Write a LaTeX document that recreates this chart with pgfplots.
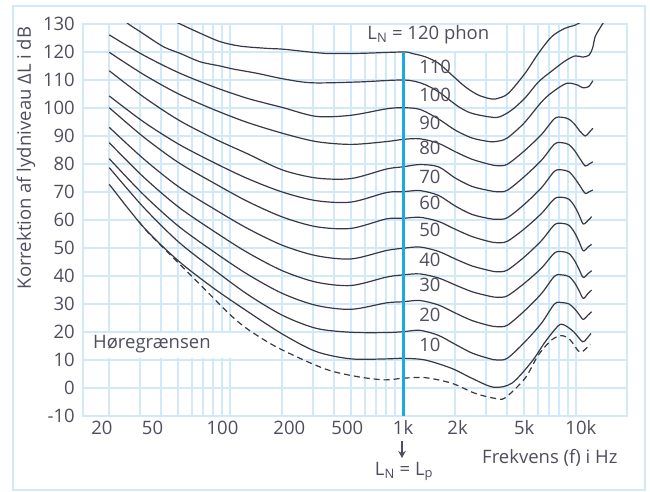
\documentclass[border=0pt]{standalone}
\usepackage{pgfplots}
\pgfplotsset{compat=1.18}
\usepackage{fontspec}
\setmainfont{Open Sans}
\usetikzlibrary{arrows.meta}

\definecolor{gridblue}{RGB}{208,234,250}
\definecolor{markblue}{RGB}{25,170,230}
\definecolor{txt}{RGB}{78,78,95}
\definecolor{curve}{RGB}{55,55,72}
\newcommand{\lbl}{\fontsize{18.5}{20}\selectfont}
\tikzset{cv/.style={curve, line width=1.2pt, smooth, mark=none}}

\begin{document}
\begin{tikzpicture}[x=1pt,y=1pt]
\path[use as bounding box] (0,0) rectangle (650,491);
\draw[gridblue, line width=2pt] (13,1.5) rectangle (645,485);

\begin{axis}[
  at={(83pt,75pt)}, anchor=south west,
  scale only axis, width=544pt, height=392pt,
  xmode=log, xmin=14.1, xmax=19700,
  ymin=-10, ymax=130,
  axis line style={gridblue, line width=1.8pt},
  xtick={18.13,35.6,90.3,219.9,475.9,1000,2065,5018,10660},
  xticklabels={20,50,100,200,500,1k,2k,5k,10k},
  minor xtick={20,30,40,50,60,70,80,90,100,200,300,400,500,600,700,800,900,
               2000,3000,4000,5000,6000,7000,8000,9000,10000},
  xmajorgrids=false, xminorgrids=true,
  ytick={-10,0,10,20,30,40,50,60,70,80,90,100,110,120,130},
  yticklabels={-10,0,10,20,30,40,50,60,70,80,90,100,110,120,130},
  ymajorgrids=true,
  major grid style={gridblue, line width=1.8pt},
  minor grid style={gridblue, line width=1.8pt},
  tick style={draw=none},
  major tick length=0pt, minor tick length=0pt,
  xticklabel style={font=\lbl, text=txt, anchor=base, yshift=-18.3pt, inner sep=0pt},
  yticklabel style={font=\lbl, text=txt, anchor=east, xshift=-8pt, inner sep=0pt},
]

% white boxes behind two labels
\fill[white] (axis cs:14.3,10.7) rectangle (axis cs:104,19.6);
\fill[white] (axis cs:579,120.4) rectangle (axis cs:3600,129.6);

% equal loudness contours, 120 down to 10 phon
\addplot[cv] coordinates {
(45,131.7)(51.4,130)(67.1,126.7)(87.5,123.7)(114.3,122.1)(163,121.3)(203,121.0)
(297,119.9)(354,119.5)(551,119.5)(1000,120)(1123,119.5)(1341,118.3)(1600,116.0)
(1912,111.8)(2283,107.6)(2725,104.6)(3256,103.2)(3555,103.5)(4062,105.25)
(5072,112.4)(6055,119.5)(7236,125.5)(8638,128.5)(9867,129.6)(11270,131.5)};

\addplot[cv] coordinates {
(24.5,131.4)(25.8,130)(30.2,127.25)(41.1,121.9)(51.4,119.5)(67.1,116.5)(87.5,115.0)
(104.5,113.9)(142.7,112.4)(203,110.4)(297,109.0)(551,109.3)(1000,110.0)(1283,108.8)
(1600,105.8)(2088,100.5)(2496,98.1)(3256,96.7)(3636,96.9)(4249,99.3)(5072,103.6)
(6055,109.3)(7236,113.2)(8638,116.8)(9867,118.6)(10980,118.2)(11890,118.9)
(12460,121.4)(12880,125.4)(13760,128.6)(14710,131.4)};

\addplot[cv] coordinates {
(20,126.1)(31.5,118.9)(50,112.7)(80,107.6)(125,103.5)(200,100.2)(315,97.0)
(500,97.4)(800,99.7)(1000,100.1)(1250,99.5)(1600,96.1)(2000,92.1)(2500,89.3)
(3150,88.0)(3500,88.1)(4000,89.3)(5000,94.6)(6300,102.1)(7236,105.5)(8800,108.8)
(10200,108.2)(10900,107.25)(11800,107.6)(12500,109.75)};

\addplot[cv] coordinates {
(20,119.9)(31.5,112.0)(50,105.1)(80,99.5)(125,94.9)(200,91.0)(315,88.0)(500,87.0)
(800,88.0)(1000,88.8)(1250,89.0)(1600,87.4)(2000,84.4)(2500,81.7)(3150,79.9)
(3500,79.4)(4000,79.9)(5000,84.6)(6300,90.5)(7500,96.2)(8300,96.7)(9100,96.0)
(9800,94.2)(10500,91.8)(11300,90.0)(11900,91.3)(12500,92.75)};

\addplot[cv] coordinates {
(20,113.3)(31.5,104.0)(50,95.8)(80,89.2)(125,83.75)(200,77.9)(315,75.0)(500,74.8)
(800,78.2)(1000,79.0)(1250,79.8)(1600,79.0)(2000,75.0)(2500,72.0)(3150,70.5)
(3500,70.1)(4000,70.6)(5000,75.4)(6300,81.3)(7500,87.1)(8300,87.6)(9100,86.9)
(9800,84.8)(10500,82.0)(11300,79.3)(11900,80.0)(12500,80.8)};

\addplot[cv] coordinates {
(20,104.3)(31.5,95.1)(50,87.2)(80,80.6)(125,74.9)(200,70.0)(315,66.9)(500,66.4)
(800,69.8)(1000,70.1)(1250,70.5)(1600,68.8)(2000,65.0)(2500,62.0)(3150,60.5)
(3500,60.25)(4000,60.8)(5000,65.5)(6300,71.5)(7500,77.4)(8300,77.9)(9100,77.2)
(9800,75.0)(10500,72.3)(11300,69.5)(11900,70.1)(12500,70.7)};

\addplot[cv] coordinates {
(20,100.1)(31.5,89.7)(50,80.6)(80,73.3)(125,66.75)(200,61.1)(315,57.6)(500,57.0)
(800,60.4)(1000,60.6)(1250,60.96)(1600,59.5)(2000,56.7)(2500,54.1)(3150,52.3)
(3500,51.9)(4000,52.4)(5000,56.75)(6300,62.3)(7500,67.6)(8300,68.1)(9100,67.4)
(9800,64.9)(10400,61.8)(11000,58.6)(11700,59.8)(12300,61.2)};

\addplot[cv] coordinates {
(20,93.1)(31.5,81.9)(50,72.0)(80,64.1)(125,57.1)(200,51.0)(315,47.25)(500,46.1)
(800,49.1)(1000,49.9)(1250,50.35)(1600,48.8)(2000,46.1)(2500,43.6)(3150,41.96)
(3500,41.5)(4000,42.1)(5000,46.7)(6300,52.6)(7500,58.3)(8300,58.8)(9100,58.1)
(9800,55.5)(10400,52.3)(11000,49.0)(11700,50.3)(12300,51.3)};

\addplot[cv] coordinates {
(20,87.6)(31.5,75.4)(50,64.75)(80,56.1)(125,48.5)(200,41.9)(315,37.8)(500,36.6)
(800,39.6)(1000,40.4)(1250,40.75)(1600,39.3)(2000,36.8)(2500,34.4)(3150,32.8)
(3500,32.4)(4000,32.9)(5000,37.3)(6300,42.8)(7500,48.2)(8300,48.7)(9100,48.0)
(9800,45.5)(10400,42.4)(11000,39.5)(11700,40.8)(12300,41.9)};

\addplot[cv] coordinates {
(20,81.9)(31.5,69.1)(50,57.9)(80,48.75)(125,40.75)(200,33.8)(315,29.5)(500,28.1)
(800,30.4)(1000,30.8)(1250,31.25)(1600,29.65)(2000,26.8)(2500,24.1)(3150,22.3)
(3500,21.9)(4000,22.4)(5000,27.4)(6300,33.7)(7500,39.9)(8300,40.4)(9100,39.8)
(9800,37.6)(10400,34.8)(11000,32.0)(11700,33.7)(12300,35.0)};

\addplot[cv] coordinates {
(20,78.7)(31.5,64.6)(50,52.3)(80,42.4)(125,33.6)(200,26.0)(315,21.3)(500,19.9)
(800,19.8)(1000,20.1)(1250,20.6)(1600,18.8)(2000,15.6)(2500,12.5)(3150,10.5)
(3500,10.0)(4000,10.6)(5000,16.15)(6300,23.1)(7500,30.0)(8300,30.5)(9100,30.0)
(9800,28.3)(10400,26.3)(11000,24.5)(11700,26.0)(12300,27.25)};

\addplot[cv] coordinates {
(20,72.75)(31.5,57.5)(50,45.5)(80,35.7)(125,27.5)(200,19.3)(315,13.0)(500,10.4)
(800,10.4)(1000,10.6)(1340,10.0)(1910,7.0)(2494,3.5)(3325,0.3)(4250,1.7)(5540,9.4)
(6630,16.5)(7900,22.25)(8540,22.5)(9680,20.1)(10900,16.5)(11530,17.7)(12200,19.5)};

% hearing threshold
\addplot[cv, dash pattern=on 6pt off 4pt] coordinates {
(29.7,59.4)(33.9,55.2)(42.3,49.3)(52.8,43.3)(65.9,37.4)(82.2,31.4)(102.7,25.5)
(128.3,20.7)(191.2,14.2)(354,6.8)(551,4.0)(787,2.9)(1000,3.5)(1341,3.7)(1912,1.7)
(2606,-1.9)(3402,-3.7)(3888,-3.5)(5072,3.5)(6055,11.8)(7236,17.2)(8266,18.7)
(9233,17.2)(10310,13.2)(10900,13.0)(12080,15.7)};

% 1 kHz reference line
\addplot[markblue, line width=3pt, mark=none] coordinates {(1000,120)(1000,-10)};

% labels
\node[anchor=base west, inner sep=0pt, text=txt, font=\lbl] at (axis cs:620,124.5) {L\textsubscript{N} = 120 phon};
\node[anchor=base west, inner sep=0pt, text=txt, font=\lbl] at (axis cs:16.1,14.2) {Høregrænsen};
\node[anchor=west, inner sep=0pt, text=txt, font=\lbl] at (axis cs:1237,114.6) {110};
\node[anchor=west, inner sep=0pt, text=txt, font=\lbl] at (axis cs:1237,104.6) {100};
\node[anchor=west, inner sep=0pt, text=txt, font=\lbl] at (axis cs:1237,94.8) {90};
\node[anchor=west, inner sep=0pt, text=txt, font=\lbl] at (axis cs:1237,85.6) {80};
\node[anchor=west, inner sep=0pt, text=txt, font=\lbl] at (axis cs:1237,75.4) {70};
\node[anchor=west, inner sep=0pt, text=txt, font=\lbl] at (axis cs:1237,66.0) {60};
\node[anchor=west, inner sep=0pt, text=txt, font=\lbl] at (axis cs:1237,56.4) {50};
\node[anchor=west, inner sep=0pt, text=txt, font=\lbl] at (axis cs:1237,45.7) {40};
\node[anchor=west, inner sep=0pt, text=txt, font=\lbl] at (axis cs:1237,36.8) {30};
\node[anchor=west, inner sep=0pt, text=txt, font=\lbl] at (axis cs:1237,26.0) {20};
\node[anchor=west, inner sep=0pt, text=txt, font=\lbl] at (axis cs:1237,15.4) {10};
\end{axis}

\node[rotate=90, inner sep=0pt, text=txt, font=\lbl] at (26,333) {Korrektion af lydniveau ΔL i dB};
\draw[txt, line width=1.5pt, -{Stealth[length=7pt,width=7.5pt]}] (402,50) -- (402,33);
\node[anchor=base, inner sep=0pt, text=txt, font=\lbl] at (404,16) {L\textsubscript{N} = L\textsubscript{p}};
\node[anchor=base west, inner sep=0pt, text=txt, font=\lbl] at (482,27.7) {Frekvens (f) i Hz};
\end{tikzpicture}
\end{document}
